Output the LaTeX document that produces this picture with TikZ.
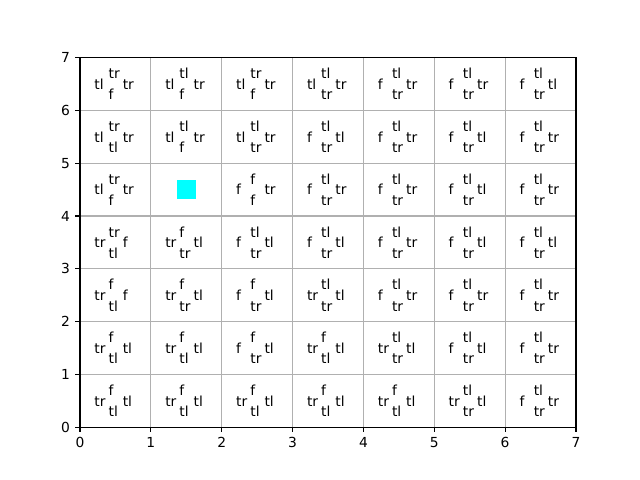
\documentclass[tikz,border=0pt]{standalone}
\usepackage{fontspec}
\setmainfont{DejaVu Sans}
\definecolor{gridgray}{HTML}{B0B0B0}
\definecolor{goalcyan}{HTML}{00FFFF}
\tikzset{
  gridLine/.style={draw=gridgray, line width=0.8pt},
  axisLine/.style={draw=black, line width=0.8pt},
  cellLabel/.style={anchor=base west, inner sep=0pt, font=\fontsize{10}{12}\selectfont},
  tickLabel/.style={inner sep=0pt, font=\fontsize{10}{12}\selectfont},
  goalBox/.style={fill=goalcyan, inner sep=0pt, minimum size=0.193in}
}
\begin{document}
\begin{tikzpicture}[x=0.708571in, y=0.528in]
  \useasboundingbox (-1.12903,-1) rectangle (7.90323,8.09091);

  % grid and frame
  \foreach \i in {1,...,6} {
    \draw[gridLine] (\i,0) -- (\i,7);
    \draw[gridLine] (0,\i) -- (7,\i);
  }
  \draw[axisLine] (0,0) rectangle (7,7);

  % ticks
  \foreach \i in {0,...,7} {
    \draw[axisLine] (\i,0) -- ++(0,-3.5pt);
    \draw[axisLine] (0,\i) -- ++(-3.5pt,0);
    \node[tickLabel, anchor=north] (xt\i) at ([yshift=-7pt]\i,0) {\i};
    \node[tickLabel, anchor=east] (yt\i) at ([xshift=-7pt]0,\i) {\i};
  }

  % cell labels: x/y/left/top/right/bottom
  \foreach \x/\y/\l/\t/\r/\b in {
    0/6/tl/tr/tr/f, 1/6/tl/tl/tr/f, 2/6/tl/tr/tr/f, 3/6/tl/tl/tr/tr, 4/6/f/tl/tr/tr, 5/6/f/tl/tr/tr, 6/6/f/tl/tl/tr,
    0/5/tl/tr/tr/tl, 1/5/tl/tl/tr/f, 2/5/tl/tl/tr/tr, 3/5/f/tl/tl/tr, 4/5/f/tl/tr/tr, 5/5/f/tl/tl/tr, 6/5/f/tl/tr/tr,
    0/4/tl/tr/tr/f, 2/4/f/f/tr/f, 3/4/f/tl/tr/tr, 4/4/f/tl/tr/tr, 5/4/f/tl/tl/tr, 6/4/f/tl/tr/tr,
    0/3/tr/tr/f/tl, 1/3/tr/f/tl/tr, 2/3/f/tl/tl/tr, 3/3/f/tl/tl/tr, 4/3/f/tl/tr/tr, 5/3/f/tl/tl/tr, 6/3/f/tl/tl/tr,
    0/2/tr/f/f/tl, 1/2/tr/f/tl/tr, 2/2/f/f/tl/tr, 3/2/tr/tl/tl/tr, 4/2/f/tl/tr/tr, 5/2/f/tl/tr/tr, 6/2/f/tl/tr/tr,
    0/1/tr/f/tl/tl, 1/1/tr/f/tl/tl, 2/1/f/f/tl/tr, 3/1/tr/f/tl/tl, 4/1/tr/tl/tl/tr, 5/1/f/tl/tl/tr, 6/1/f/tl/tr/tr,
    0/0/tr/f/tl/tl, 1/0/tr/f/tl/tl, 2/0/tr/f/tl/tl, 3/0/tr/f/tl/tl, 4/0/tr/f/tl/tl, 5/0/tr/tl/tl/tr, 6/0/f/tl/tr/tr
  } {
    \node[cellLabel] (l-\x-\y) at (\x+0.2,\y+0.4) {\l};
    \node[cellLabel] (t-\x-\y) at (\x+0.4,\y+0.6) {\t};
    \node[cellLabel] (r-\x-\y) at (\x+0.6,\y+0.4) {\r};
    \node[cellLabel] (b-\x-\y) at (\x+0.4,\y+0.2) {\b};
  }

  % goal cell
  \node[goalBox] (goal) at (1.5,4.5) {};
\end{tikzpicture}
\end{document}
